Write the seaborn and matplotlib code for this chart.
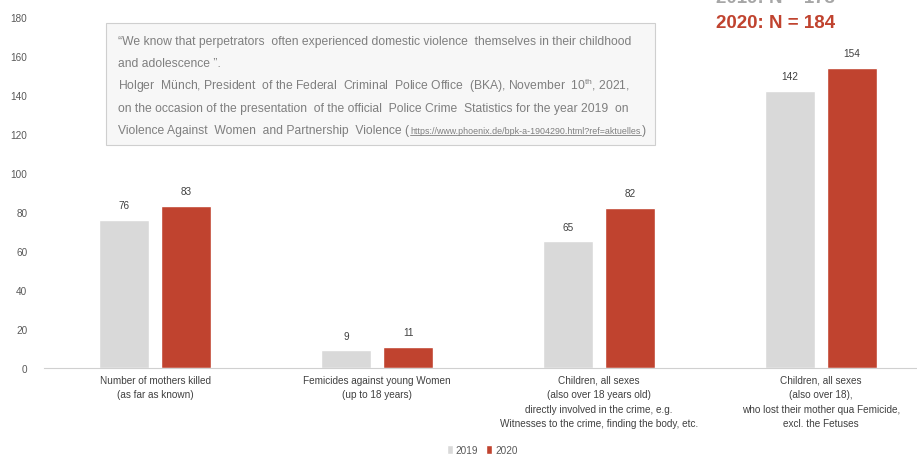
import pandas as pd
import numpy as np
import matplotlib.pyplot as plt
import matplotlib.patches as mpatches
from matplotlib.lines import Line2D
import seaborn as sns

# data
categories = [
    "Number of mothers killed\n(as far as known)",
    "Femicides against young Women\n(up to 18 years)",
    "Children, all sexes\n(also over 18 years old)\ndirectly involved in the crime, e.g.\nWitnesses to the crime, finding the body, etc.",
    "Children, all sexes\n(also over 18),\nwho lost their mother qua Femicide,\nexcl. the Fetuses",
]
years = ["2019", "2020"]
values_2019 = [76, 9, 65, 142]
values_2020 = [83, 11, 82, 154]
totals = {"2019": 173, "2020": 184}
yticks = [0, 20, 40, 60, 80, 100, 120, 140, 160, 180]

quote_lines = [
    "\u201cWe know that perpetrators  often experienced domestic violence  themselves in their childhood",
    "and adolescence \u201d.",
    "Holger  M\u00fcnch, President  of the Federal  Criminal  Police Office  (BKA), November  10$^{\\rm th}$, 2021,",
    "on the occasion of the presentation  of the official  Police Crime  Statistics for the year 2019  on",
    "Violence Against  Women  and Partnership  Violence (",
]
quote_url = "https://www.phoenix.de/bpk-a-1904290.html?ref=aktuelles"

col_gray = "#d9d9d9"
col_red = "#c0432f"
narrow = ["Liberation Sans Narrow", "Liberation Sans"]

df = pd.DataFrame({
    "category": categories * 2,
    "year": [years[0]] * 4 + [years[1]] * 4,
    "value": values_2019 + values_2020,
})

sns.set_style("white")
plt.rcParams["font.family"] = ["Liberation Sans", "DejaVu Sans"]
plt.rcParams["mathtext.fontset"] = "custom"
plt.rcParams["mathtext.rm"] = "Liberation Sans"

fig = plt.figure(figsize=(9.17, 4.56), dpi=100)
ax = fig.add_axes([44 / 917, 87 / 456, 873 / 917, 351 / 456])

sns.barplot(data=df, x="category", y="value", hue="year", order=categories,
            hue_order=years, palette=[col_gray, col_red], width=0.56, gap=0.19,
            saturation=1, ax=ax, legend=True)

for cont in ax.containers:
    ax.bar_label(cont, padding=7, fontsize=7.2, color="#404040", family=narrow)

ax.set_xlim(-0.5, -0.5 + 873 / 222)
ax.set_ylim(0, 180)
ax.set_yticks(yticks)
ax.tick_params(axis="y", length=0, labelsize=7.2, labelcolor="#595959", pad=12)
ax.tick_params(axis="x", length=0, labelsize=7.2, labelcolor="#404040", pad=5)
for lab in ax.get_xticklabels() + ax.get_yticklabels():
    lab.set_family(narrow)
for lab in ax.get_xticklabels():
    lab.set_linespacing(1.55)
ax.set_xlabel("")
ax.set_ylabel("")
for s in ["top", "right", "left"]:
    ax.spines[s].set_visible(False)
ax.spines["bottom"].set_color("#d0d0d0")
ax.spines["bottom"].set_linewidth(0.8)

leg = ax.legend(loc="center", bbox_to_anchor=(482 / 917, 5 / 456),
                bbox_transform=fig.transFigure, ncol=2, frameon=False,
                fontsize=7.2, handlelength=0.6, handleheight=0.9,
                handletextpad=0.3, columnspacing=0.8)
for t in leg.get_texts():
    t.set_color("#595959")
    t.set_family(narrow)

# quote box
fig.patches.append(mpatches.Rectangle((106 / 917, 1 - 146 / 456), 549 / 917, 122 / 456,
                                      transform=fig.transFigure, facecolor="#f7f7f7",
                                      edgecolor="#cfcfcf", linewidth=0.8, zorder=5))
line_y = [42, 64, 86, 109, 131]
for txt, yy in zip(quote_lines, line_y):
    t = fig.text(118 / 917, 1 - yy / 456, txt, fontsize=8.7, color="#7f7f7f",
                 va="center", ha="left", zorder=6)
fig.canvas.draw()
bb = t.get_window_extent()
u = fig.text((bb.x1 + 1) / 917, 1 - 132 / 456, quote_url, fontsize=6.4,
             color="#7f7f7f", va="center", ha="left", zorder=6)
fig.canvas.draw()
ub = u.get_window_extent()
fig.lines.append(Line2D([ub.x0 / 917, ub.x1 / 917], [(ub.y0 + 0.5) / 456] * 2,
                        transform=fig.transFigure, color="#7f7f7f", lw=0.6, zorder=6))
fig.text((ub.x1 + 1) / 917, 1 - 131 / 456, ")", fontsize=8.7, color="#7f7f7f",
         va="center", ha="left", zorder=6)

# totals in top right corner (the first one is cut by the top edge, as in the source)
fig.text(716 / 917, 1 + 2 / 456, f"2019: N = {totals['2019']}", fontsize=13.5,
         fontweight="bold", color="#a6a6a6", va="center", ha="left")
fig.text(716 / 917, 1 - 23 / 456, f"2020: N = {totals['2020']}", fontsize=13.5,
         fontweight="bold", color=col_red, va="center", ha="left")

fig.savefig("out.png", dpi=100)
